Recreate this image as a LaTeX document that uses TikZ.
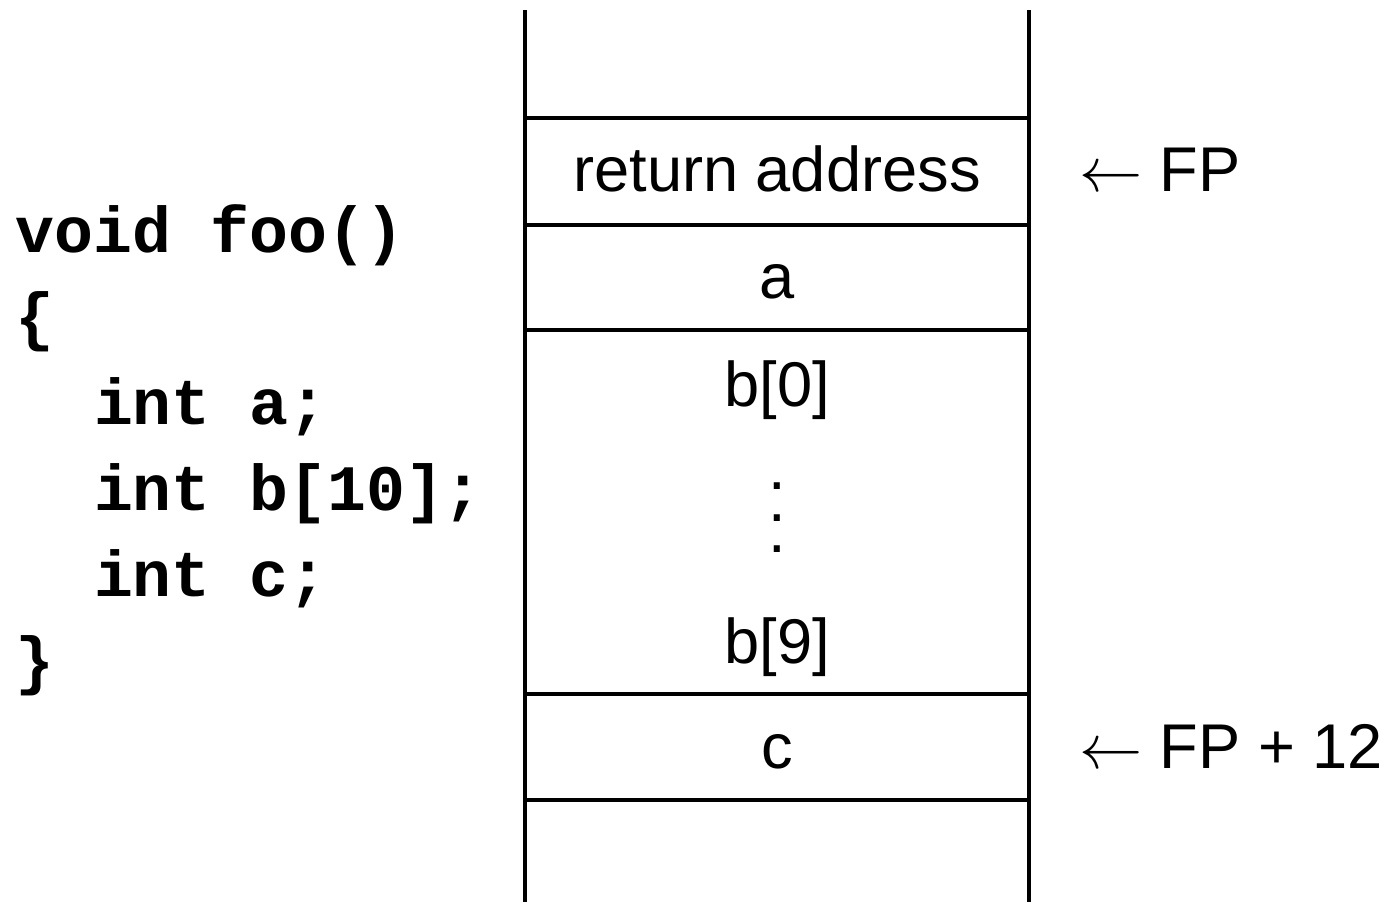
\RequirePackage{fix-cm}
\documentclass[tikz,border=0pt]{standalone}
\usepackage{fontspec}
\setmainfont{Liberation Sans}
\setmonofont{Liberation Mono}
\begin{document}
\begin{tikzpicture}[x=0.5pt,y=-0.5pt,
  txt/.style={inner sep=0pt,outer sep=0pt,font=\fontsize{31.6pt}{38pt}\selectfont},
  code/.style={txt,anchor=base west,font=\fontsize{32.4pt}{38pt}\selectfont\ttfamily\bfseries},
  cell/.style={txt,anchor=base},
  lbl/.style={txt,anchor=base west},
  wall/.style={line width=2pt}]
\useasboundingbox (0,0) rectangle (1389,902);
% code
\node[code] (l1) at (16,252) {void foo()};
\node[code] (l2) at (16,338) {\{};
\node[code] (l3) at (94,424) {int a;};
\node[code] (l4) at (94,510) {int b[10];};
\node[code] (l5) at (94,596) {int c;};
\node[code] (l6) at (16,682) {\}};
% stack walls
\coordinate (tl) at (525,10);
\coordinate (bl) at (525,902);
\coordinate (tr) at (1029,10);
\coordinate (br) at (1029,902);
\draw[wall] (tl) -- (bl);
\draw[wall] (tr) -- (br);
\foreach \y in {118,225,330,694,800}
  \draw[wall] (525,\y) -- (1029,\y);
% cells
\node[cell] (ra) at (777,191) {return address};
\node[cell] (a) at (777,298) {a};
\node[cell] (b0) at (777,406) {b[0]};
\node[txt,align=center,font=\fontsize{31.6pt}{15.75pt}\selectfont] (dots) at (777,518) {.\\.\\.};
\node[cell] (b9) at (777,663) {b[9]};
\node[cell] (c) at (777,768) {c};
% labels
\node[lbl] (fp) at (1079,191) {$\leftarrow$ FP};
\node[lbl] (fp12) at (1079,768) {$\leftarrow$ FP + 12};
\end{tikzpicture}
\end{document}
